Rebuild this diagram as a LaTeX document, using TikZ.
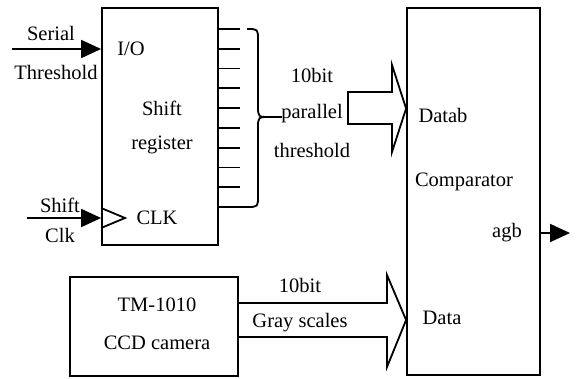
\documentclass[tikz,border=0pt]{standalone}
\usepackage{fontspec}
\setmainfont{Liberation Serif}
\usetikzlibrary{arrows.meta}
\begin{document}
\begin{tikzpicture}[x=1pt,y=1pt,line width=1.8pt,line join=miter,
  lbl/.style={inner sep=0pt,font=\fontsize{20.5}{24}\selectfont},
  blk/.style={draw,inner sep=0pt},
  sig/.style={-{Triangle[length=20pt,width=18pt]}}]
\useasboundingbox (0,0) rectangle (576,378);
% boxes
\node[blk,minimum width=116pt,minimum height=237pt] (sr) at (160,251.5) {};
\node[blk,minimum width=133pt,minimum height=367pt] (cmp) at (473.5,186.5) {};
\node[blk,minimum width=168pt,minimum height=99pt] (cam) at (154,51.5) {};
% texts
\node[lbl] (tser) at (51,345) {Serial};
\node[lbl] (tthr) at (56,306) {Threshold};
\node[lbl] (tio) at (131,329) {I/O};
\node[lbl] (tsh) at (162,270) {Shift};
\node[lbl] (treg) at (162,233) {register};
\node[lbl] (tclk) at (157,160) {CLK};
\node[lbl] (tsh2) at (60,173) {Shift};
\node[lbl] (tclk2) at (60,143) {Clk};
\node[lbl] (t10a) at (312,303) {10bit};
\node[lbl] (tpar) at (312,264) {parallel};
\node[lbl] (tthr2) at (312,228) {threshold};
\node[lbl] (tdatab) at (443,263) {Datab};
\node[lbl] (tcmp) at (464,196) {Comparator};
\node[lbl] (tagb) at (507,145) {agb};
\node[lbl] (tdata) at (442,60) {Data};
\node[lbl] (t10b) at (300,93) {10bit};
\node[lbl] (tgray) at (300,55) {Gray scales};
\node[lbl] (ttm) at (157,73) {TM-1010};
\node[lbl] (tccd) at (157,35) {CCD camera};
% inputs
\coordinate (serin) at (12,329);
\coordinate (clkin) at (27,160);
\draw[sig] (serin) -- (serin -| sr.west);
\draw[sig] (clkin) -- (clkin -| sr.west);
\draw (sr.west |- 0,170) -- (125,160) -- (sr.west |- 0,150);
% output
\coordinate (agbout) at (570,145);
\draw[sig] (cmp.east |- agbout) -- (agbout);
% parallel outputs
\foreach \k in {0,...,8} {
  \pgfmathsetmacro{\yy}{349-19.78*\k}
  \draw (sr.east |- 0,\yy) -- (240,\yy);
}
\draw (sr.east |- 0,171) -- (247,171) .. controls (258,171) .. (258,182)
  -- (258,250) .. controls (258,261) .. (270,261) -- (282,261);
\draw (247,349) .. controls (258,349) .. (258,338) -- (258,272)
  .. controls (258,261) .. (270,261);
% block arrow datab
\draw (348,286) -- (392,286) -- (392,313) -- (cmp.west |- 0,269.5) -- (392,226) -- (392,254) -- (348,254) -- cycle;
% block arrow gray
\draw (cam.east |- 0,75) -- (387,75) -- (387,103) -- (cmp.west |- 0,58) -- (387,11) -- (387,41) -- (cam.east |- 0,41);
\end{tikzpicture}
\end{document}
